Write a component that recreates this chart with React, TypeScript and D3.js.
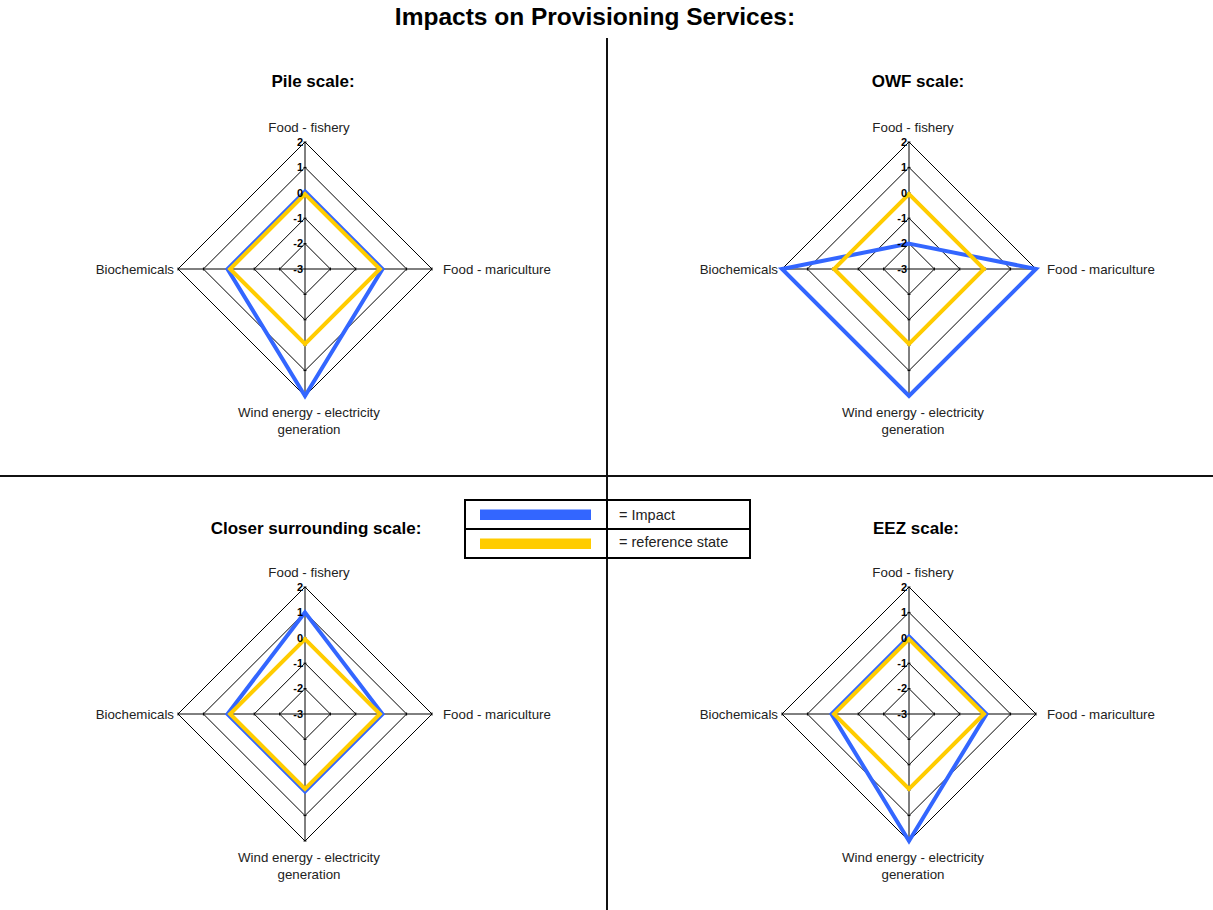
import React from "react";
import * as d3 from "d3";

// axis categories, clockwise from the top
const categories = [
  "Food - fishery",
  "Food - mariculture",
  "Wind energy - electricity generation",
  "Biochemicals",
];

const levels = [-3, -2, -1, 0, 1, 2];

const panelTitles = ["Pile scale:", "OWF scale:", "Closer surrounding scale:", "EEZ scale:"];

// impact values per panel (same order as categories)
const impactPile = [0.05, 0.05, 2, 0.05];
const impactOWF = [-2, 2, 2, 2];
const impactCloser = [1, 0.05, 0.05, 0.05];
const impactEEZ = [0.05, 0.05, 2, 0.05];

const referenceState = [-0.05, -0.05, -0.05, -0.05];

const seriesNames = ["= Impact", "= reference state"];

const W = 1213;
const H = 910;
const R = 127;
const BLUE = "#3366ff";
const YELLOW = "#ffcc00";
const FONT = "'Liberation Sans', Arial, sans-serif";

const rScale = d3.scaleLinear().domain([-3, 2]).range([0, R]);
const angle = d3.scaleLinear().domain([0, categories.length]).range([0, 2 * Math.PI]);

const radarLine = d3
  .lineRadial<number>()
  .angle((d, i) => angle(i))
  .radius((d) => rScale(d))
  .curve(d3.curveLinearClosed);

const point = (i: number, v: number): [number, number] => {
  const a = angle(i);
  return [Math.sin(a) * rScale(v), -Math.cos(a) * rScale(v)];
};

function Radar({ cx, cy, title, titleX, titleY, impact }: any) {
  const outer = d3.max(levels) as number;
  return (
    <g>
      <text x={titleX} y={titleY} textAnchor="middle" fontFamily={FONT} fontWeight="bold" fontSize={17}>
        {title}
      </text>
      <g transform={`translate(${cx},${cy})`}>
        {/* rings */}
        {levels.slice(1).map((lv) => (
          <path key={lv} d={radarLine(categories.map(() => lv)) as string} fill="none" stroke="#000" strokeWidth={1} />
        ))}
        {/* spokes */}
        {categories.map((c, i) => {
          const [x, y] = point(i, outer);
          return <line key={c} x1={0} y1={0} x2={x} y2={y} stroke="#000" strokeWidth={1} />;
        })}
        {/* tick marks on spokes */}
        {categories.map((c, i) =>
          levels.slice(1).map((lv) => {
            const [x, y] = point(i, lv);
            const vert = i % 2 === 0;
            return (
              <line
                key={c + lv}
                x1={vert ? x - 1.5 : x}
                x2={vert ? x + 1.5 : x}
                y1={vert ? y : y - 1.5}
                y2={vert ? y : y + 1.5}
                stroke="#000"
                strokeWidth={1}
              />
            );
          })
        )}
        {/* series */}
        <path d={radarLine(impact) as string} fill="none" stroke={BLUE} strokeWidth={4} strokeLinejoin="miter" />
        <path d={radarLine(referenceState) as string} fill="none" stroke={YELLOW} strokeWidth={4} strokeLinejoin="miter" />
        {/* tick labels */}
        {levels.map((lv) => (
          <text
            key={lv}
            x={-2}
            y={-rScale(lv)}
            dy="0.35em"
            textAnchor="end"
            fontFamily={FONT}
            fontWeight="bold"
            fontSize={11}
          >
            {lv}
          </text>
        ))}
        {/* category labels */}
        <text x={4} y={-R - 10} textAnchor="middle" fontFamily={FONT} fontSize={13.3} fill="#222">
          {categories[0]}
        </text>
        <text x={R + 11} y={5} textAnchor="start" fontFamily={FONT} fontSize={13.3} fill="#222">
          {categories[1]}
        </text>
        <text x={4} y={R + 21} textAnchor="middle" fontFamily={FONT} fontSize={13.3} fill="#222">
          <tspan x={4}>Wind energy - electricity</tspan>
          <tspan x={4} dy={17}>generation</tspan>
        </text>
        <text x={-R - 4} y={5} textAnchor="end" fontFamily={FONT} fontSize={13.3} fill="#222">
          {categories[3]}
        </text>
      </g>
    </g>
  );
}

export default function App() {
  const panels = [
    { cx: 305, cy: 269, titleX: 313, titleY: 87, impact: impactPile },
    { cx: 909, cy: 269, titleX: 918, titleY: 87, impact: impactOWF },
    { cx: 305, cy: 714, titleX: 316, titleY: 534, impact: impactCloser },
    { cx: 909, cy: 714, titleX: 916, titleY: 534, impact: impactEEZ },
  ];
  return (
    <svg width={W} height={H} style={{ position: "absolute", left: 0, top: 0, background: "#fff" }}>
      <rect width={W} height={H} fill="#fff" />
      <text x={595} y={25} textAnchor="middle" fontFamily={FONT} fontWeight="bold" fontSize={24.5}>
        Impacts on Provisioning Services:
      </text>
      {/* quadrant dividers */}
      <line x1={607} x2={607} y1={38} y2={H} stroke="#111" strokeWidth={2} />
      <line x1={0} x2={W} y1={476} y2={476} stroke="#111" strokeWidth={2} />

      {panels.map((p, i) => (
        <Radar key={i} {...p} title={panelTitles[i]} />
      ))}

      {/* legend */}
      <g>
        <rect x={465} y={500} width={285} height={58} fill="#fff" stroke="#000" strokeWidth={2} />
        <line x1={465} x2={750} y1={529} y2={529} stroke="#000" strokeWidth={2} />
        <line x1={607} x2={607} y1={500} y2={558} stroke="#000" strokeWidth={2} />
        <rect x={480} y={509.5} width={111} height={10.5} fill={BLUE} />
        <rect x={480} y={538.5} width={111} height={10.5} fill={YELLOW} />
        <text x={619} y={520} fontFamily={FONT} fontSize={14.5} fill="#222">
          {seriesNames[0]}
        </text>
        <text x={619} y={547} fontFamily={FONT} fontSize={14.5} fill="#222">
          {seriesNames[1]}
        </text>
      </g>
    </svg>
  );
}
